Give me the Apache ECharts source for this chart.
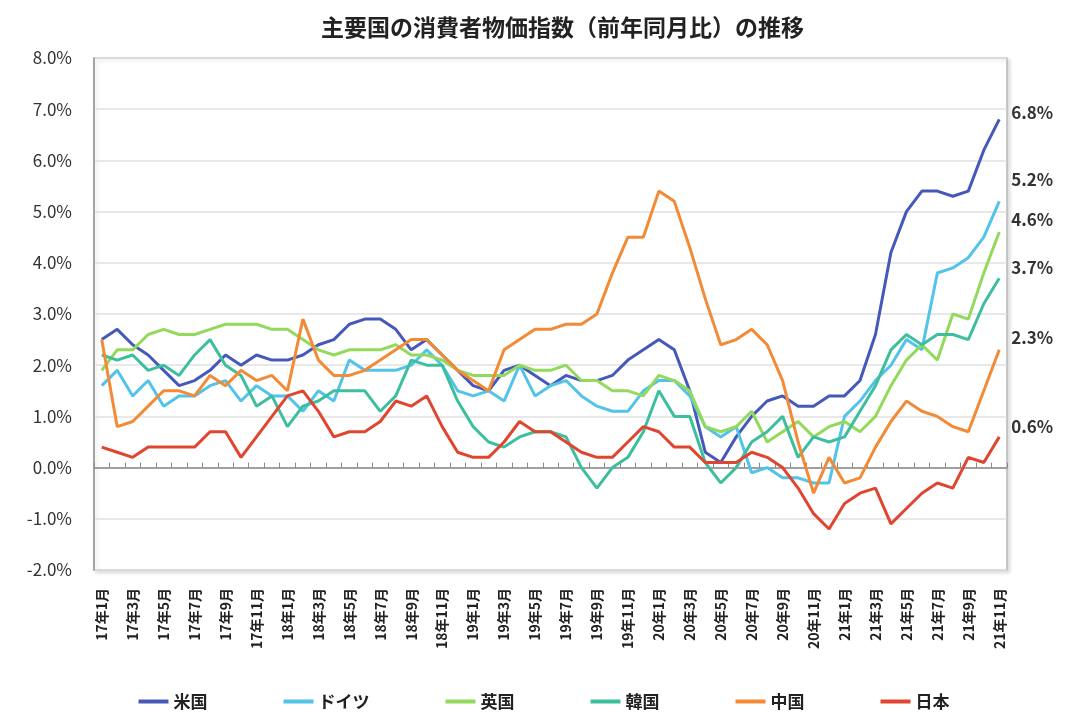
<!DOCTYPE html>
<html lang="ja">
<head>
<meta charset="UTF-8"/>
<script src="https://cdn.jsdelivr.net/npm/echarts@6/dist/echarts.min.js"></script>
<title>主要国の消費者物価指数</title>
<style>
  html, body { margin: 0; padding: 0; background: #fff; }
</style>
</head>
<body>
<div id="main" style="width:1088px; height:726px;"></div>
<script type="text/javascript">
    // 月ラベル（17年1月〜21年11月）
    var months = [];
    for (var y = 17; y <= 21; y++) {
        for (var m = 1; m <= 12; m++) {
            if (y === 21 && m > 11) break;
            months.push(y + '年' + m + '月');
        }
    }

    var usa = [2.5, 2.7, 2.4, 2.2, 1.9, 1.6, 1.7, 1.9, 2.2, 2.0, 2.2, 2.1,
               2.1, 2.2, 2.4, 2.5, 2.8, 2.9, 2.9, 2.7, 2.3, 2.5, 2.2, 1.9,
               1.6, 1.5, 1.9, 2.0, 1.8, 1.6, 1.8, 1.7, 1.7, 1.8, 2.1, 2.3,
               2.5, 2.3, 1.5, 0.3, 0.1, 0.6, 1.0, 1.3, 1.4, 1.2, 1.2, 1.4,
               1.4, 1.7, 2.6, 4.2, 5.0, 5.4, 5.4, 5.3, 5.4, 6.2, 6.8];
    var germany = [1.6, 1.9, 1.4, 1.7, 1.2, 1.4, 1.4, 1.6, 1.7, 1.3, 1.6, 1.4,
                   1.4, 1.1, 1.5, 1.3, 2.1, 1.9, 1.9, 1.9, 2.0, 2.3, 2.0, 1.5,
                   1.4, 1.5, 1.3, 2.0, 1.4, 1.6, 1.7, 1.4, 1.2, 1.1, 1.1, 1.5,
                   1.7, 1.7, 1.4, 0.8, 0.6, 0.8, -0.1, 0.0, -0.2, -0.2, -0.3, -0.3,
                   1.0, 1.3, 1.7, 2.0, 2.5, 2.3, 3.8, 3.9, 4.1, 4.5, 5.2];
    var uk = [1.9, 2.3, 2.3, 2.6, 2.7, 2.6, 2.6, 2.7, 2.8, 2.8, 2.8, 2.7,
              2.7, 2.5, 2.3, 2.2, 2.3, 2.3, 2.3, 2.4, 2.2, 2.2, 2.1, 1.9,
              1.8, 1.8, 1.8, 2.0, 1.9, 1.9, 2.0, 1.7, 1.7, 1.5, 1.5, 1.4,
              1.8, 1.7, 1.5, 0.8, 0.7, 0.8, 1.1, 0.5, 0.7, 0.9, 0.6, 0.8,
              0.9, 0.7, 1.0, 1.6, 2.1, 2.4, 2.1, 3.0, 2.9, 3.8, 4.6];
    var korea = [2.2, 2.1, 2.2, 1.9, 2.0, 1.8, 2.2, 2.5, 2.0, 1.8, 1.2, 1.4,
                 0.8, 1.2, 1.3, 1.5, 1.5, 1.5, 1.1, 1.4, 2.1, 2.0, 2.0, 1.3,
                 0.8, 0.5, 0.4, 0.6, 0.7, 0.7, 0.6, 0.0, -0.4, 0.0, 0.2, 0.7,
                 1.5, 1.0, 1.0, 0.1, -0.3, 0.0, 0.5, 0.7, 1.0, 0.2, 0.6, 0.5,
                 0.6, 1.1, 1.6, 2.3, 2.6, 2.4, 2.6, 2.6, 2.5, 3.2, 3.7];
    var china = [2.5, 0.8, 0.9, 1.2, 1.5, 1.5, 1.4, 1.8, 1.6, 1.9, 1.7, 1.8,
                 1.5, 2.9, 2.1, 1.8, 1.8, 1.9, 2.1, 2.3, 2.5, 2.5, 2.2, 1.9,
                 1.7, 1.5, 2.3, 2.5, 2.7, 2.7, 2.8, 2.8, 3.0, 3.8, 4.5, 4.5,
                 5.4, 5.2, 4.3, 3.3, 2.4, 2.5, 2.7, 2.4, 1.7, 0.5, -0.5, 0.2,
                 -0.3, -0.2, 0.4, 0.9, 1.3, 1.1, 1.0, 0.8, 0.7, 1.5, 2.3];
    var japan = [0.4, 0.3, 0.2, 0.4, 0.4, 0.4, 0.4, 0.7, 0.7, 0.2, 0.6, 1.0,
                 1.4, 1.5, 1.1, 0.6, 0.7, 0.7, 0.9, 1.3, 1.2, 1.4, 0.8, 0.3,
                 0.2, 0.2, 0.5, 0.9, 0.7, 0.7, 0.5, 0.3, 0.2, 0.2, 0.5, 0.8,
                 0.7, 0.4, 0.4, 0.1, 0.1, 0.1, 0.3, 0.2, 0.0, -0.4, -0.9, -1.2,
                 -0.7, -0.5, -0.4, -1.1, -0.8, -0.5, -0.3, -0.4, 0.2, 0.1, 0.6];

    var names = ['米国', 'ドイツ', '英国', '韓国', '中国', '日本'];
    var colors = ['#4658b8', '#52c3e9', '#93d95b', '#3dbf9f', '#f28a36', '#e0452f'];
    var datas = [usa, germany, uk, korea, china, japan];
    // 右端ラベルの縦ずれ（重なり回避）
    var labelShift = [-7, -22, -13, -11, -12, -10];

    var font = '"Noto Sans CJK JP", "Noto Sans", sans-serif';
    var myChart = echarts.init(document.getElementById('main'));

    var series = [];
    for (var i = 0; i < names.length; i++) {
        series.push({
            name: names[i],
            type: 'line',
            xAxisIndex: 0,
            data: datas[i],
            symbol: 'none',
            lineStyle: { width: 3, color: colors[i] },
            itemStyle: { color: colors[i] },
            endLabel: {
                show: true,
                distance: 12,
                offset: [0, labelShift[i]],
                formatter: function (p) { return p.value.toFixed(1) + '%'; },
                fontFamily: font,
                fontSize: 17,
                fontWeight: 'bold',
                color: '#333'
            }
        });
    }

    option = {
        animation: false,
        backgroundColor: '#fff',
        title: {
            text: '主要国の消費者物価指数（前年同月比）の推移',
            left: 316,
            top: 11,
            textStyle: { fontFamily: font, fontSize: 23, fontWeight: 'bold', color: '#222' }
        },
        legend: {
            data: names,
            bottom: 11,
            left: 'center',
            icon: 'rect',
            itemWidth: 30,
            itemHeight: 4,
            itemGap: 76,
            textStyle: { fontFamily: font, fontSize: 17, fontWeight: 'bold', color: '#222' }
        },
        grid: {
            left: 94,
            right: 81,
            top: 58,
            bottom: 156,
            show: true,
            borderColor: '#bbb',
            borderWidth: 1.5,
            shadowColor: 'rgba(0,0,0,0.15)',
            shadowBlur: 4,
            shadowOffsetX: 2,
            shadowOffsetY: 2,
            backgroundColor: '#fff'
        },
        xAxis: [
            {
                type: 'category',
                data: months,
                boundaryGap: true,
                axisLine: { show: false, onZero: false },
                axisTick: { show: false },
                axisLabel: {
                    interval: 1,
                    rotate: 90,
                    margin: 18,
                    fontFamily: font,
                    fontSize: 14,
                    fontWeight: 'bold',
                    color: '#222'
                }
            },
            {
                type: 'category',
                data: months,
                position: 'bottom',
                boundaryGap: true,
                axisLine: { show: true, onZero: true, lineStyle: { color: '#888', width: 1.5 } },
                axisTick: { show: true, inside: true, length: 5, interval: 0, lineStyle: { color: '#888', width: 1 } },
                axisLabel: { show: false },
                splitLine: { show: false }
            }
        ],
        yAxis: {
            type: 'value',
            min: -2,
            max: 8,
            interval: 1,
            axisLine: { show: true, lineStyle: { color: '#999', width: 1.5 } },
            axisTick: { show: false },
            splitLine: { lineStyle: { color: '#e0e0e0', width: 1.5 } },
            axisLabel: {
                margin: 22,
                formatter: function (v) { return v.toFixed(1) + '%'; },
                fontFamily: font,
                fontSize: 17,
                color: '#333'
            }
        },
        series: series
    };

    myChart.setOption(option);
</script>
</body>
</html>
